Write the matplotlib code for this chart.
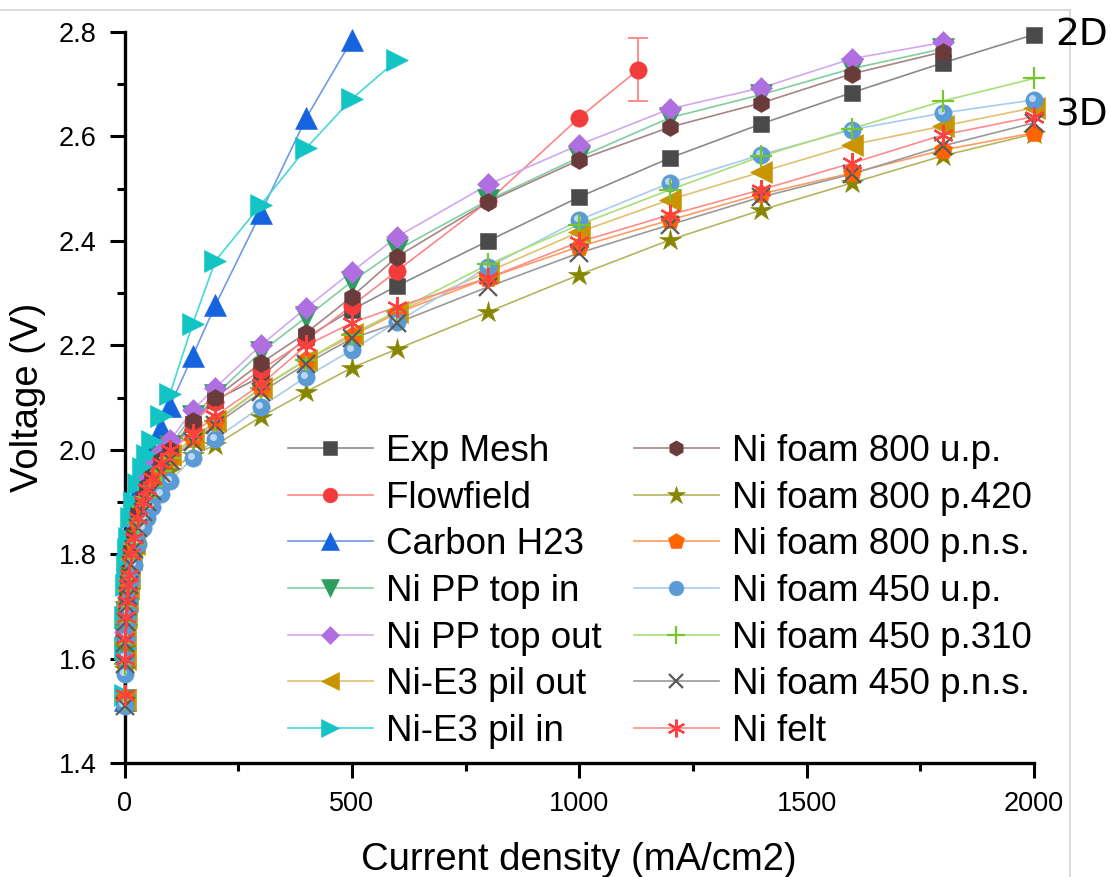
import matplotlib
matplotlib.use("Agg")
import matplotlib.pyplot as plt
from matplotlib.ticker import MultipleLocator
from matplotlib.lines import Line2D
from matplotlib.transforms import offset_copy

# ---------------------------------------------------------------- data
# current densities (mA/cm2)
j_full = [0, 1, 2, 4, 6, 8, 10, 15, 20, 30, 40, 50, 60, 80, 100, 150, 200,
          300, 400, 500, 600, 800, 1000, 1200, 1400, 1600, 1800, 2000]
j_1800 = j_full[:-1]
j_flow = j_full[:23] + [1130]
j_carbon = j_full[:20]
j_e3_in = j_full[:21]

# cell voltages (V)
v_exp_mesh = [1.52, 1.60, 1.64, 1.68, 1.71, 1.74, 1.76, 1.80, 1.83, 1.87, 1.90, 1.92, 1.94, 1.97, 1.995, 2.05, 2.095,
              2.140, 2.215, 2.268, 2.314, 2.400, 2.484, 2.559, 2.624, 2.684, 2.741, 2.795]
v_flowfield = [1.52, 1.59, 1.63, 1.68, 1.71, 1.74, 1.76, 1.80, 1.83, 1.87, 1.90, 1.92, 1.94, 1.97, 2.00, 2.052, 2.091,
               2.153, 2.210, 2.276, 2.343, 2.476, 2.636, 2.728]
err_flowfield = [0] * 23 + [0.06]
v_carbon = [1.52, 1.61, 1.66, 1.72, 1.76, 1.79, 1.81, 1.85, 1.88, 1.92, 1.95, 1.975, 2.00, 2.042, 2.084, 2.180, 2.277,
            2.454, 2.636, 2.785]
v_pp_in = [1.52, 1.60, 1.64, 1.69, 1.72, 1.75, 1.77, 1.81, 1.85, 1.89, 1.92, 1.94, 1.96, 1.985, 2.008, 2.065, 2.105,
           2.187, 2.254, 2.322, 2.383, 2.478, 2.560, 2.636, 2.680, 2.730, 2.768]
v_pp_out = [1.52, 1.60, 1.65, 1.70, 1.73, 1.76, 1.78, 1.82, 1.86, 1.90, 1.93, 1.95, 1.97, 1.995, 2.018, 2.076, 2.119,
            2.200, 2.272, 2.341, 2.408, 2.508, 2.584, 2.653, 2.693, 2.749, 2.780]
v_e3_out = [1.52, 1.60, 1.64, 1.68, 1.71, 1.735, 1.755, 1.79, 1.82, 1.86, 1.89, 1.915, 1.935, 1.965, 1.99, 2.02, 2.055,
            2.118, 2.172, 2.222, 2.264, 2.341, 2.417, 2.479, 2.532, 2.584, 2.620, 2.655]
v_e3_in = [1.53, 1.62, 1.68, 1.74, 1.78, 1.81, 1.83, 1.87, 1.90, 1.935, 1.965, 1.99, 2.017, 2.065, 2.107, 2.241, 2.362,
           2.469, 2.578, 2.672, 2.747]
v_f800_up = [1.52, 1.60, 1.64, 1.69, 1.72, 1.75, 1.77, 1.81, 1.84, 1.88, 1.91, 1.93, 1.95, 1.98, 2.00, 2.055, 2.10,
             2.166, 2.224, 2.293, 2.370, 2.475, 2.555, 2.618, 2.664, 2.720, 2.762]
v_f800_p420 = [1.52, 1.58, 1.62, 1.66, 1.69, 1.71, 1.73, 1.77, 1.80, 1.84, 1.87, 1.89, 1.91, 1.94, 1.96, 1.99, 2.009,
               2.063, 2.111, 2.157, 2.193, 2.264, 2.335, 2.402, 2.459, 2.511, 2.563, 2.605]
v_f800_pns = [1.525, 1.60, 1.64, 1.68, 1.71, 1.735, 1.755, 1.79, 1.82, 1.86, 1.89, 1.91, 1.93, 1.96, 1.985, 2.02, 2.053,
              2.118, 2.172, 2.218, 2.262, 2.329, 2.389, 2.440, 2.490, 2.530, 2.574, 2.607]
v_f450_up = [1.51, 1.57, 1.60, 1.64, 1.67, 1.69, 1.71, 1.75, 1.78, 1.82, 1.85, 1.87, 1.89, 1.915, 1.94, 1.984, 2.021,
             2.082, 2.140, 2.191, 2.245, 2.350, 2.440, 2.511, 2.565, 2.613, 2.645, 2.670]
v_f450_p310 = [1.52, 1.59, 1.63, 1.67, 1.70, 1.73, 1.75, 1.79, 1.82, 1.86, 1.89, 1.91, 1.93, 1.96, 1.985, 2.02, 2.055,
               2.118, 2.172, 2.220, 2.266, 2.355, 2.431, 2.498, 2.562, 2.615, 2.668, 2.711]
v_f450_pns = [1.51, 1.59, 1.63, 1.67, 1.70, 1.72, 1.74, 1.78, 1.81, 1.85, 1.88, 1.90, 1.92, 1.955, 1.98, 2.015, 2.048,
              2.110, 2.165, 2.213, 2.243, 2.312, 2.377, 2.431, 2.484, 2.528, 2.582, 2.626]
v_felt = [1.53, 1.60, 1.64, 1.68, 1.71, 1.74, 1.76, 1.80, 1.83, 1.87, 1.90, 1.925, 1.945, 1.975, 2.00, 2.03, 2.065,
          2.125, 2.200, 2.243, 2.274, 2.329, 2.398, 2.450, 2.498, 2.549, 2.603, 2.638]

x_ticks = [0, 500, 1000, 1500, 2000]
y_ticks = [1.4, 1.6, 1.8, 2.0, 2.2, 2.4, 2.6, 2.8]

# ---------------------------------------------------------------- style
plt.rcParams["font.family"] = ["Liberation Sans", "DejaVu Sans"]

fig = plt.figure(figsize=(11.1, 8.77), dpi=100)
W, H = 1110, 877
ax = fig.add_axes([124.5 / W, 1 - 763 / H, (1034 - 124.5) / W, (763 - 32) / H])

asterisk = (6, 2, 0)

series = [
    ("Exp Mesh", j_full, v_exp_mesh, "s", 11.5, "#4a4a4a", "#8a8a8a"),
    ("Flowfield", j_flow, v_flowfield, "o", 12.5, "#f23c3c", "#ff8585"),
    ("Carbon H23", j_carbon, v_carbon, "^", 16, "#1663e0", "#6f9ae8"),
    ("Ni PP top in", j_1800, v_pp_in, "v", 16, "#2b9d5e", "#80cfa0"),
    ("Ni PP top out", j_1800, v_pp_out, "D", 11, "#b06fe0", "#d0a8f0"),
    ("Ni-E3 pil out", j_full, v_e3_out, "<", 16, "#c89400", "#e2c070"),
    ("Ni-E3 pil in", j_e3_in, v_e3_in, ">", 16, "#12c4c4", "#45d8d8"),
    ("Ni foam 800 u.p.", j_1800, v_f800_up, "h", 13, "#6b3b3b", "#a78585"),
    ("Ni foam 800 p.420", j_full, v_f800_p420, "*", 16, "#868600", "#b5b560"),
    ("Ni foam 800 p.n.s.", j_full, v_f800_pns, "p", 14, "#ff6400", "#ff9c62"),
    ("Ni foam 450 u.p.", j_full, v_f450_up, "o", 12.5, "#5b9bd5", "#a9cbed"),
    ("Ni foam 450 p.310", j_full, v_f450_p310, "+", 16, "#76c72e", "#a8df78"),
    ("Ni foam 450 p.n.s.", j_full, v_f450_pns, "x", 12.5, "#5a5a5a", "#9a9a9a"),
    ("Ni felt", j_full, v_felt, asterisk, 15, "#ff4040", "#ff8c8c"),
]

handles = []
for label, x, y, marker, ms, mcol, lcol in series:
    open_marker = marker in ("+", "x", asterisk)
    mew = 1.6 if open_marker else 0.4
    ax.plot(x, y, "-", color=lcol, lw=1.2, zorder=2, clip_on=False)
    ax.plot(x, y, linestyle="none", marker=marker, markersize=ms,
            markerfacecolor=mcol, markeredgecolor=mcol, markeredgewidth=mew,
            zorder=3, clip_on=False)
    if label == "Flowfield":
        ax.errorbar(x[-1:], y[-1:], yerr=err_flowfield[-1:], fmt="none",
                    ecolor=lcol, elinewidth=1.3, capsize=7, capthick=1.3, zorder=2)
    if label == "Ni foam 450 u.p.":
        # soft highlight on the spherical markers
        hl = offset_copy(ax.transData, fig=fig, x=-1.5, y=1.5, units="points")
        ax.plot(x, y, linestyle="none", marker="o", markersize=5,
                markerfacecolor="#d6e8f8", markeredgewidth=0, alpha=0.8,
                transform=hl, zorder=3, clip_on=False)
    handles.append(Line2D([], [], color=lcol, lw=1.2, marker=marker, markersize=ms * 0.85,
                          markerfacecolor=mcol, markeredgecolor=mcol,
                          markeredgewidth=mew, label=label))

ax.set_xlim(0, 2000)
ax.set_ylim(1.4, 2.8)
ax.set_xticks(x_ticks)
ax.set_yticks(y_ticks)
ax.set_xticklabels([str(t) for t in x_ticks])
ax.set_yticklabels([f"{t:.1f}" for t in y_ticks])
ax.xaxis.set_minor_locator(MultipleLocator(250))
ax.yaxis.set_minor_locator(MultipleLocator(0.1))
ax.tick_params(which="major", direction="out", length=11, width=2.2, labelsize=19.5, pad=9)
ax.tick_params(which="minor", direction="out", length=5.5, width=2.2)
for side in ("top", "right"):
    ax.spines[side].set_visible(False)
for side in ("left", "bottom"):
    ax.spines[side].set_linewidth(2.4)

ax.set_xlabel("Current density (mA/cm2)", fontsize=27.5, labelpad=18)
ax.set_ylabel("Voltage (V)", fontsize=27.5, labelpad=9)

# thin frame along the top and right edge of the canvas, kept behind the text
fig.add_artist(Line2D([0, 1070 / W], [1 - 10 / H, 1 - 10 / H], color="#d4d4d4", lw=1.2, zorder=-1))
fig.add_artist(Line2D([1070 / W, 1070 / W], [0, 1 - 10 / H], color="#d4d4d4", lw=1.2, zorder=-1))

ax.text(2105, 2.795, "2D", fontsize=27, family="DejaVu Sans", ha="center", va="center", clip_on=False)
ax.text(2105, 2.64, "3D", fontsize=27, family="DejaVu Sans", ha="center", va="center", clip_on=False)

leg = fig.legend(handles=handles, ncol=2, loc="upper left",
                 bbox_to_anchor=(288 / W, 1 - 434 / H), frameon=False,
                 fontsize=26.5, handlelength=2.3, handletextpad=0.36,
                 columnspacing=0.88, labelspacing=0.317, borderpad=0, borderaxespad=0,
                 numpoints=1)

fig.savefig("out.png", dpi=100)
